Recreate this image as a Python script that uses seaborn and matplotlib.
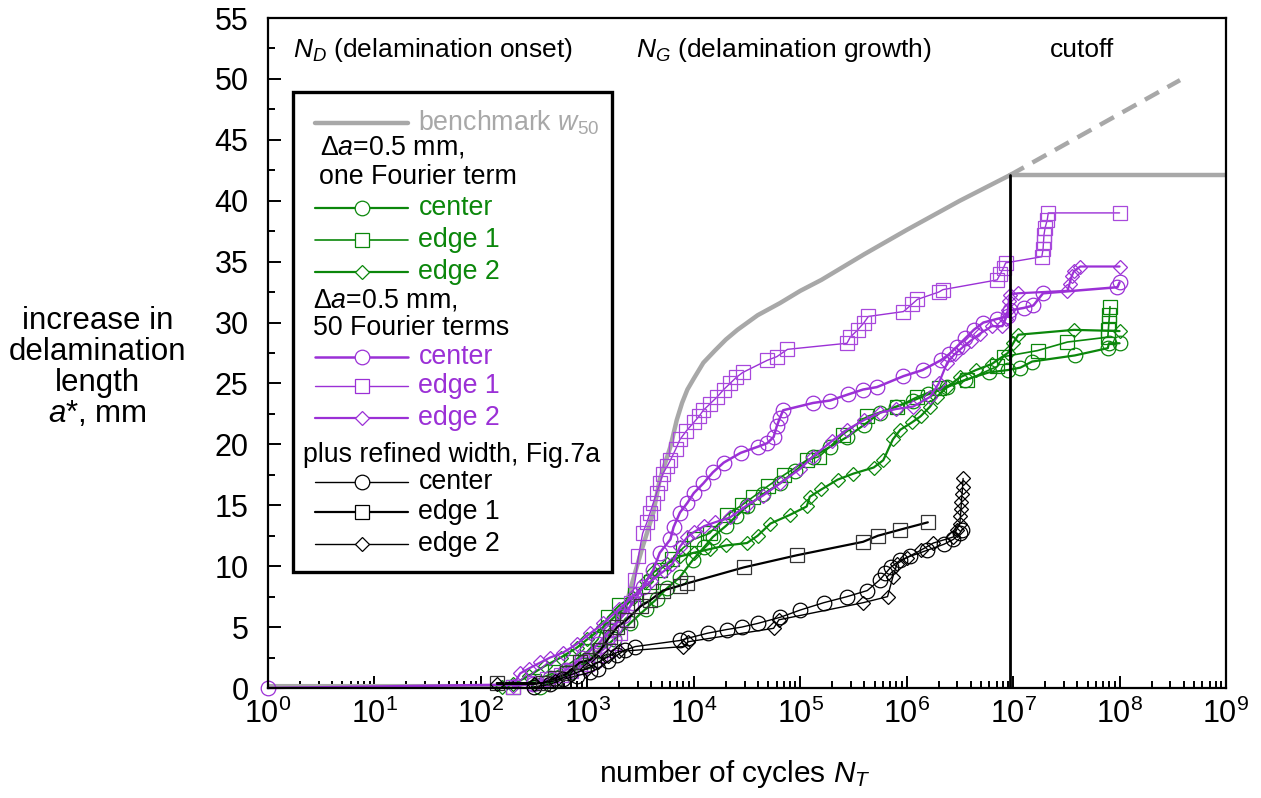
import numpy as np
import matplotlib
matplotlib.use("Agg")
import matplotlib.pyplot as plt
from matplotlib.patches import Rectangle
from matplotlib.ticker import LogLocator, MultipleLocator, NullFormatter
import seaborn as sns

# ---- data (N = number of cycles, a = increase in delamination length, mm)
# benchmark w50
bench_N = [1, 10, 100, 200, 400, 794, 1260, 1780, 2340, 2690, 3310, 4170, 4790, 6030,
           6920, 7760, 8710, 1.0e4, 1.23e4, 1.58e4, 2.0e4, 2.57e4, 3.98e4, 6.46e4, 1.0e5,
           1.58e5, 3.98e5, 1.0e6, 3.16e6, 9.33e6]
bench_a = [0.15, 0.15, 0.15, 0.15, 0.6, 1.5, 3.0, 5.0, 7.0, 8.9, 11.6, 14.4, 17.1, 19.8,
           22.0, 23.4, 24.5, 25.4, 26.7, 27.7, 28.6, 29.4, 30.6, 31.6, 32.6,
           33.5, 35.6, 37.6, 40.0, 42.1]
cutoff_N = 9.33e6
cut_N = [9.33e6, 1.0e9]
cut_a = [42.1, 42.1]
extra_N = [9.33e6, 3.7e8]
extra_a = [42.1, 49.9]

# da=0.5 mm, one Fourier term (green)
g_center_N = [363, 501, 708, 1000, 1320, 1780, 2510, 3550, 4470, 5620, 7410, 9770, 1.26e4,
              1.51e4, 2.0e4, 2.51e4, 3.16e4, 4.47e4, 6.46e4, 8.91e4, 1.32e5, 1.91e5, 2.75e5,
              3.98e5, 5.62e5, 7.94e5, 1.15e6, 1.58e6, 2.40e6, 3.55e6, 5.89e6, 8.91e6, 1.17e7,
              1.51e7, 3.80e7, 7.76e7, 7.94e7, 1.0e8]
g_center_a = [0.1, 0.6, 1.3, 2.2, 3.0, 4.0, 5.3, 6.5, 7.3, 8.2, 9.1, 10.5, 11.6,
              12.4, 13.3, 14.1, 14.9, 15.9, 16.8, 17.8, 19.0, 19.8, 20.6,
              21.6, 22.6, 23.1, 23.6, 24.1, 24.7, 25.3, 25.9, 26.1, 26.3,
              26.8, 27.3, 27.9, 28.3, 28.3]
g_edge1_N = [200, 316, 501, 708, 1000, 1260, 1550, 2000, 2820, 3980, 4790, 6310, 7940, 1.0e4,
             1.41e4, 2.04e4, 2.82e4, 3.63e4, 5.01e4, 7.08e4, 1.15e5, 1.51e5, 2.51e5, 4.27e5,
             8.13e5, 1.26e6, 2.0e6, 3.72e6, 7.08e6, 8.13e6, 1.70e7, 3.24e7, 7.76e7, 7.85e7,
             7.94e7, 8.04e7, 8.13e7]
g_edge1_a = [0.1, 0.6, 1.3, 2.1, 3.0, 4.0, 5.8, 6.8, 7.7, 8.7, 9.7, 10.6, 11.5, 12.2,
             12.7, 14.2, 15.0, 15.7, 16.6, 17.5, 18.7, 19.0, 20.8, 22.3,
             23.1, 23.9, 24.6, 25.3, 26.4, 27.2, 27.7, 28.4, 28.8, 29.4,
             30.0, 30.6, 31.3]
g_edge2_N = [158, 200, 282, 398, 562, 794, 1000, 1410, 2000, 2690, 3550, 4170, 5620, 7410,
             1.0e4, 1.41e4, 2.0e4, 3.16e4, 3.98e4, 5.25e4, 7.94e4, 1.15e5, 1.23e5, 1.58e5,
             2.24e5, 3.16e5, 4.90e5, 6.03e5, 7.41e5, 8.71e5, 1.12e6, 1.35e6, 1.66e6, 1.91e6,
             2.40e6, 3.16e6, 4.47e6, 6.31e6, 8.91e6, 1.0e7, 1.12e7, 3.72e7, 1.0e8]
g_edge2_a = [0.1, 0.3, 1.0, 1.8, 2.5, 3.3, 4.0, 5.0, 6.2, 7.4, 8.8, 9.5, 10.2, 10.8,
             11.1, 11.4, 11.7, 11.9, 12.5, 13.5, 14.2, 14.9, 15.7, 16.3,
             17.1, 17.6, 18.1, 18.7, 20.4, 21.2, 21.8, 22.3, 23.1, 23.9,
             24.7, 25.5, 26.1, 26.6, 27.5, 28.3, 29.0, 29.4, 29.3]

# da=0.5 mm, 50 Fourier terms (purple)
p_center_N = [1, 309, 447, 631, 891, 1260, 1660, 2140, 2690, 3310, 4170, 4790, 6030, 6460,
              7410, 8710, 1.0e4, 1.23e4, 1.51e4, 1.91e4, 2.75e4, 3.98e4, 4.90e4, 5.62e4,
              6.03e4, 6.46e4, 6.92e4, 1.32e5, 1.91e5, 2.82e5, 3.89e5, 5.25e5, 9.33e5, 1.41e6,
              2.09e6, 2.51e6, 2.95e6, 3.55e6, 4.27e6, 5.25e6, 7.08e6, 8.91e6, 9.33e6, 1.26e7,
              1.55e7, 1.91e7, 9.55e7, 1.0e8]
p_center_a = [0.0, 0.3, 0.8, 1.5, 2.5, 3.6, 4.8, 5.9, 7.0, 8.3, 9.7, 11.1, 12.2, 13.2,
              14.4, 15.2, 16.0, 16.8, 17.7, 18.5, 19.3, 19.8, 20.1, 20.6,
              21.5, 22.2, 22.8, 23.4, 23.6, 24.1, 24.5, 24.7, 25.6, 26.1,
              26.9, 27.4, 28.0, 28.7, 29.4, 30.0, 30.3, 30.5, 31.0, 31.2,
              31.4, 32.4, 32.9, 33.3]
p_edge1_N = [200, 316, 417, 562, 708, 851, 1000, 1150, 1320, 1550, 1780, 2040, 2340, 2570,
             2820, 3020, 3310, 3630, 3890, 4170, 4470, 4790, 5130, 5620, 6030, 6760, 7410,
             8510, 1.0e4, 1.12e4, 1.23e4, 1.41e4, 1.66e4, 1.91e4, 2.19e4, 2.51e4, 2.88e4,
             4.90e4, 6.03e4, 7.59e4, 2.75e5, 2.95e5, 3.47e5, 3.98e5, 4.37e5, 9.33e5, 1.12e6,
             1.26e6, 2.0e6, 2.19e6, 7.08e6, 7.59e6, 8.13e6, 8.51e6, 1.86e7, 1.91e7, 1.93e7,
             1.95e7, 2.0e7, 2.09e7, 2.14e7, 1.0e8]
p_edge1_a = [0.1, 0.4, 0.7, 1.1, 1.4, 1.7, 2.0, 2.3, 2.7, 3.1, 3.7, 4.5, 5.6, 7.0,
             8.9, 10.8, 12.7, 13.6, 14.4, 15.2, 16.0, 16.8, 17.6, 18.2, 18.7, 19.6, 20.4,
             21.1, 21.8, 22.3, 22.8, 23.3, 23.9, 24.5, 25.0, 25.5, 25.9,
             26.9, 27.2, 27.8, 28.3, 28.8, 29.4, 30.0, 30.5, 30.9, 31.5,
             31.9, 32.5, 32.7, 33.5, 34.0, 34.5, 34.9, 35.4, 36.0, 36.6,
             37.2, 37.8, 38.4, 39.0, 39.0]
p_edge2_N = [200, 234, 282, 363, 447, 589, 794, 1070, 1410, 2000, 2820, 3980, 5250, 6310,
             7410, 8710, 1.0e4, 1.26e4, 1.58e4, 2.19e4, 3.16e4, 4.47e4, 6.46e4, 1.0e5,
             1.32e5, 2.0e5, 2.75e5, 3.98e5, 5.62e5, 7.94e5, 1.15e6, 1.66e6, 2.0e6, 2.40e6,
             2.82e6, 3.39e6, 3.98e6, 4.90e6, 6.31e6, 7.94e6, 8.51e6, 8.91e6, 9.12e6, 9.33e6,
             1.10e7, 3.24e7, 3.39e7, 3.55e7, 3.72e7, 4.27e7, 1.0e8]
p_edge2_a = [0.2, 1.2, 1.6, 2.1, 2.5, 2.9, 3.6, 4.5, 5.3, 6.5, 7.7, 8.8, 9.6, 10.2,
             11.6, 12.4, 12.8, 13.3, 13.6, 14.0, 15.0, 15.8, 16.8, 18.0,
             19.0, 20.3, 21.2, 22.0, 22.6, 22.9, 23.1, 23.9, 25.0, 26.7,
             27.4, 28.0, 28.5, 29.1, 29.7, 29.7, 30.3, 31.0, 31.8, 32.3,
             32.4, 32.6, 33.2, 33.8, 34.2, 34.6, 34.6]

# plus refined width, Fig.7a (black)
k_center_N = [316, 447, 589, 794, 1070, 1260, 1580, 1910, 2240, 2820, 7410, 8910, 1.35e4,
              2.04e4, 2.82e4, 3.98e4, 6.46e4, 1.0e5, 1.66e5, 2.75e5, 4.27e5, 5.62e5, 6.31e5,
              7.08e5, 8.71e5, 1.07e6, 1.55e6, 2.24e6, 2.75e6, 3.16e6, 3.31e6]
k_center_a = [0.1, 0.3, 0.7, 1.0, 1.3, 1.6, 2.2, 2.7, 3.1, 3.4, 3.9, 4.1, 4.5,
              4.8, 5.0, 5.3, 5.8, 6.4, 7.0, 7.5, 8.0, 8.9, 9.4,
              9.9, 10.5, 10.8, 11.3, 11.8, 12.2, 12.7, 13.0]
k_edge1_N = [141, 380, 501, 646, 851, 1070, 1320, 1620, 1910, 2340, 3160, 3890, 5130, 7410,
             8710, 2.95e4, 9.33e4, 3.89e5, 5.37e5, 8.71e5, 1.58e6]
k_edge1_a = [0.4, 0.4, 0.8, 1.2, 2.1, 2.3, 3.1, 4.2, 5.0, 5.6, 6.7, 7.2, 8.0, 8.4,
             8.6, 9.9, 10.9, 12.0, 12.5, 13.0, 13.6]
k_edge2_N = [141, 316, 501, 708, 1000, 1260, 1580, 2000, 7940, 8910, 5.62e4, 6.31e4, 3.89e5,
             6.61e5, 7.41e5, 8.13e5, 1.0e6, 1.35e6, 1.78e6, 2.75e6, 2.95e6, 3.16e6, 3.20e6,
             3.24e6, 3.27e6, 3.31e6, 3.35e6, 3.39e6]
k_edge2_a = [0.3, 0.3, 0.6, 1.1, 1.6, 2.1, 2.6, 3.0, 3.4, 3.8, 4.9, 5.6, 7.0,
             7.5, 9.1, 10.2, 10.7, 11.3, 11.9, 12.4, 13.0, 13.5, 14.1,
             14.7, 15.3, 15.9, 16.5, 17.2]

GREEN = "#0b870b"
PURPLE = "#9b30d6"
GRAY = "#a8a8a8"
BLACK = "#000000"

# ---- style
sns.set_theme(style="ticks")
plt.rcParams["font.family"] = ["Liberation Sans", "DejaVu Sans"]
plt.rcParams["mathtext.fontset"] = "custom"
plt.rcParams["mathtext.rm"] = "Liberation Sans"
plt.rcParams["mathtext.it"] = "Liberation Sans:italic"
plt.rcParams["mathtext.bf"] = "Liberation Sans:bold"
plt.rcParams["text.color"] = "black"
plt.rcParams["axes.labelcolor"] = "black"

fig = plt.figure(figsize=(12.61, 7.98), dpi=100)
ax = fig.add_axes([268 / 1261, 1 - 688 / 798, 958 / 1261, 670 / 798])
ax.set_xscale("log")


def draw(N, a, color, marker, ms, lw, mec=None):
    sns.lineplot(x=N, y=a, ax=ax, color=color, lw=lw, marker=marker, markersize=ms,
                 markerfacecolor="none", markeredgecolor=mec or color, markeredgewidth=0.9,
                 sort=False, estimator=None, clip_on=False)


# benchmark + cutoff
sns.lineplot(x=bench_N, y=bench_a, ax=ax, color=GRAY, lw=3.2, sort=False, estimator=None)
sns.lineplot(x=cut_N, y=cut_a, ax=ax, color=GRAY, lw=3.2, sort=False, estimator=None)
ax.plot(extra_N, extra_a, color=GRAY, lw=3.2, dashes=(3.6, 2.2), dash_capstyle="butt")
ax.plot([cutoff_N, cutoff_N], [0, cut_a[0]], color=BLACK, lw=2.0, zorder=6)

draw(g_center_N, g_center_a, GREEN, "o", 10.5, 1.6)
draw(g_edge1_N, g_edge1_a, GREEN, "s", 9.5, 1.2)
draw(g_edge2_N, g_edge2_a, GREEN, "D", 7.5, 1.6)
draw(p_center_N, p_center_a, PURPLE, "o", 10.5, 1.8)
draw(p_edge1_N, p_edge1_a, PURPLE, "s", 9.5, 1.0, mec="#a848dc")
draw(p_edge2_N, p_edge2_a, PURPLE, "D", 7.5, 1.6)
draw(k_center_N, k_center_a, BLACK, "o", 10.5, 1.0)
draw(k_edge1_N, k_edge1_a, BLACK, "s", 9.5, 1.6, mec="#333333")
draw(k_edge2_N, k_edge2_a, BLACK, "D", 7.5, 1.0)

# ---- axes
ax.set_xlim(1, 1e9)
ax.set_ylim(0, 55)
ax.xaxis.set_major_locator(LogLocator(base=10, numticks=20))
ax.xaxis.set_minor_locator(LogLocator(base=10, subs=np.arange(2, 10), numticks=200))
ax.xaxis.set_minor_formatter(NullFormatter())
ax.yaxis.set_major_locator(MultipleLocator(5))
ax.yaxis.set_minor_locator(MultipleLocator(2.5))
ax.tick_params(which="both", direction="in", top=False, right=False, width=1.4,
               labelsize=22, colors="black")
ax.tick_params(which="major", length=9)
ax.tick_params(which="minor", length=5)
ax.tick_params(axis="x", which="major", pad=8)
ax.tick_params(axis="y", which="major", pad=14)
for s in ax.spines.values():
    s.set_linewidth(1.6)
    s.set_color("black")

ax.set_xlabel("number of cycles $N_T$", fontsize=21.5)
ax.xaxis.set_label_coords(0.487, -0.105)
ax.set_ylabel("increase in\ndelamination\nlength\n$a$*, mm", fontsize=22.5, rotation=0,
              ha="center", va="center", linespacing=1.05)
ax.yaxis.set_label_coords(-0.178, 0.478)

# phase annotations
ax.text(0.026, 0.952, "$N_D$ (delamination onset)", transform=ax.transAxes, fontsize=19,
        va="center", ha="left")
ax.text(0.384, 0.952, "$N_G$ (delamination growth)", transform=ax.transAxes, fontsize=19,
        va="center", ha="left")
ax.text(0.816, 0.952, "cutoff", transform=ax.transAxes, fontsize=19, va="center", ha="left")

# ---- legend drawn by hand (headers sit flush left as in the original)
ax.add_patch(Rectangle((0.026, 0.173), 0.333, 0.717, transform=ax.transAxes,
                       facecolor="white", edgecolor="black", lw=2.4, zorder=10))
lx0, lxm, lx1, tx = 0.049, 0.098, 0.146, 0.157
leg_fs = 19.3


def leg_row(y, label, color, marker=None, ms=10, lw=1.4, tcolor=None):
    ax.plot([lx0, lx1], [y, y], transform=ax.transAxes, color=color, lw=lw, zorder=11,
            clip_on=False)
    if marker:
        ax.plot([lxm], [y], transform=ax.transAxes, marker=marker, ms=ms, mfc="white",
                mec=color, mew=0.9, zorder=12, clip_on=False)
    ax.text(tx, y, label, transform=ax.transAxes, color=tcolor or color, fontsize=leg_fs,
            va="center", ha="left", zorder=12)


def leg_head(x, y, label):
    ax.text(x, y, label, transform=ax.transAxes, fontsize=leg_fs, va="center", ha="left",
            zorder=12)


leg_row(0.843, r"benchmark $w_{\mathit{50}}$", GRAY, lw=3.2)
leg_head(0.054, 0.806, r"$\mathit{\Delta a}$=0.5 mm,")
leg_head(0.053, 0.763, "one Fourier term")
leg_row(0.716, "center", GREEN, "o", 10.5, 1.6)
leg_row(0.669, "edge 1", GREEN, "s", 9.5, 1.2)
leg_row(0.621, "edge 2", GREEN, "D", 7.5, 1.6)
leg_head(0.047, 0.579, r"$\mathit{\Delta a}$=0.5 mm,")
leg_head(0.047, 0.537, "50 Fourier terms")
leg_row(0.494, "center", PURPLE, "o", 10.5, 1.8)
leg_row(0.451, "edge 1", PURPLE, "s", 9.5, 1.0)
leg_row(0.403, "edge 2", PURPLE, "D", 7.5, 1.6)
leg_head(0.037, 0.348, "plus refined width, Fig.7a")
leg_row(0.307, "center", BLACK, "o", 10.5, 1.0)
leg_row(0.263, "edge 1", BLACK, "s", 9.5, 1.6)
leg_row(0.215, "edge 2", BLACK, "D", 7.5, 1.0)

fig.savefig("out.png", dpi=100)
